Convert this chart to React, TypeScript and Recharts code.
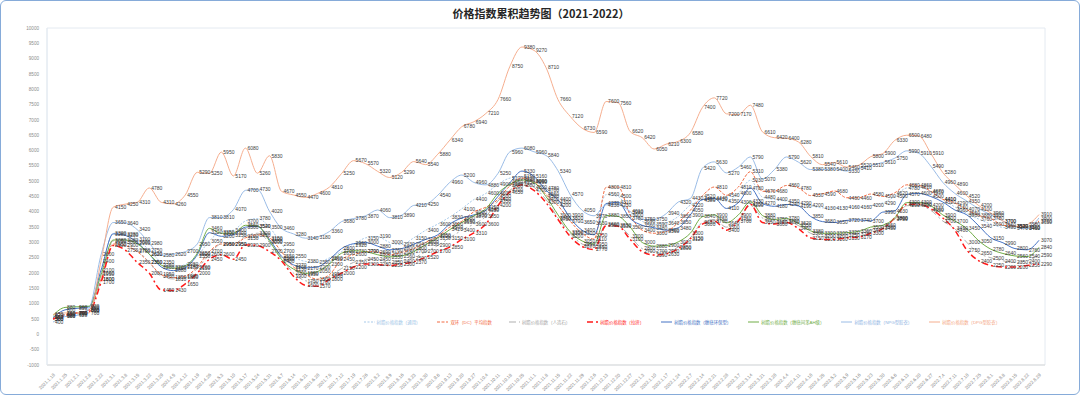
import { CartesianGrid, LabelList, Legend, Line, LineChart, XAxis, YAxis } from 'recharts'

const DATES = [
  '2021.1.18', '2021.1.25', '2021.2.1', '2021.2.8', '2021.2.22', '2021.3.1', '2021.3.8', '2021.3.15', '2021.3.22', '2021.3.29',
  '2021.4.5', '2021.4.12', '2021.4.19', '2021.4.26', '2021.5.3', '2021.5.10', '2021.5.17', '2021.5.24', '2021.5.31', '2021.6.7',
  '2021.6.14', '2021.6.21', '2021.6.28', '2021.7.5', '2021.7.12', '2021.7.19', '2021.7.26', '2021.8.2', '2021.8.9', '2021.8.16',
  '2021.8.23', '2021.8.30', '2021.9.6', '2021.9.13', '2021.9.20', '2021.9.27', '2021.10.4', '2021.10.11', '2021.10.18', '2021.10.25',
  '2021.11.1', '2021.11.8', '2021.11.15', '2021.11.22', '2021.11.29', '2021.12.6', '2021.12.13', '2021.12.20', '2021.12.27', '2022.1.3',
  '2022.1.10', '2022.1.17', '2022.1.24', '2022.2.7', '2022.2.14', '2022.2.21', '2022.2.28', '2022.3.7', '2022.3.14', '2022.3.21',
  '2022.3.28', '2022.4.4', '2022.4.11', '2022.4.18', '2022.4.25', '2022.5.2', '2022.5.9', '2022.5.16', '2022.5.23', '2022.5.30',
  '2022.6.6', '2022.6.13', '2022.6.20', '2022.6.27', '2022.7.4', '2022.7.11', '2022.7.18', '2022.7.25', '2022.8.1', '2022.8.8',
  '2022.8.15', '2022.8.22', '2022.8.29',
]

// 树脂价格指数（通用）
const GENERAL = [
  500, 620, 660, 800, 2000, 3300, 3280, 3100, 2750, 2350,
  2200, 2280, 2550, 3050, 3350, 3400, 3700, 3780, 3500, 2950,
  2550, 2380, 2350, 2500, 2700, 2920, 3150, 3190, 3000, 2930,
  3150, 3400, 3600, 3830, 4100, 4400, 4600, 4900, 5100, 5150,
  5000, 4780, 4300, 3900, 3650, 3630, 4560, 4500, 3980, 3690,
  3590, 3640, 3850, 4220, 4380, 4420, 4350, 4600, 5030, 4480,
  4400, 4350, 4290, 4200, 4130, 4130, 4160, 4160, 4200, 4290,
  4500, 4780, 4810, 4650, 4400, 4160, 3950, 3760, 3600, 3490,
  3470, 3460, 3650,
]

// 双环（DC）平均指数
const DC_AVG = [
  550, 650, 700, 800, 1800, 2950, 2900, 2700, 2350, 1950,
  1850, 1900, 2200, 2700, 2950, 2950, 3150, 3250, 3150, 2700,
  2200, 1950, 1800, 1950, 2450, 2600, 2700, 2690, 2600, 2680,
  2800, 3000, 3200, 3500, 3690, 4000, 4150, 4400, 4850, 5100,
  4990, 4560, 4200, 3700, 3300, 3110, 4800, 4810, 3900, 3400,
  3300, 3360, 3650, 4050, 4520, 4810, 4540, 4810, 5310, 4670,
  4680, 4860, 4780, 4530, 4590, 4680, 4460, 4460, 4580, 4500,
  4620, 4880, 4860, 4670, 4410, 4290, 4070, 3880, 3780, 3560,
  3530, 3500, 3700,
]

// 人造石
const STONE = [
  500, 650, 700, 800, 1800, 3050, 3000, 2750, 2350, 1900,
  1810, 1850, 2150, 2600, 2950, 2950, 3200, 3300, 3000, 2500,
  2000, 1750, 1700, 1900, 2150, 2350, 2450, 2450, 2350, 2400,
  2500, 2700, 2900, 3150, 3400, 3600, 3850, 4350, 4700, 4950,
  4800, 4400, 3800, 3300, 2950, 2850, 3600, 3550, 3200, 2800,
  2700, 2700, 2850, 3150, 3650, 3750, 3500, 3750, 4200, 3800,
  3660, 3700, 3550, 3300, 3200, 3200, 3250, 3280, 3400, 3500,
  3750, 4200, 4200, 4050, 3700, 3450, 3000, 2650, 2500, 2400,
  2350, 2400, 2590,
]

// 拉挤
const PULTRUSION = [
  500, 600, 700, 750, 1700, 2900, 2750, 2350, 2000, 1450,
  1430, 1650, 2000, 2450, 2600, 2450, 2920, 2900, 2700, 2400,
  1900, 1600, 1570, 1800, 2000, 2200, 2300, 2280, 2250, 2300,
  2370, 2520, 2700, 2850, 3100, 3310, 3600, 4200, 4650, 4880,
  4700, 4300, 3750, 3200, 2870, 2770, 3550, 3530, 3100, 2700,
  2590, 2630, 2800, 3120, 3600, 3700, 3400, 3700, 4250, 3650,
  3600, 3650, 3450, 3150, 3100, 3100, 3150, 3170, 3300, 3450,
  3800, 4250, 4250, 4100, 3800, 3400, 2750, 2400, 2250, 2200,
  2200, 2250, 2290,
]

// 缠绕环保型
const WINDING = [
  550, 800, 850, 900, 2100, 3280, 3230, 3000, 2620, 2200,
  2080, 2180, 2600, 3320, 3200, 3250, 3500, 3520, 3100, 2550,
  2270, 2170, 2200, 2450, 2800, 2960, 3000, 2880, 2760, 2800,
  2940, 3100, 3250, 3600, 3800, 3900, 4050, 4500, 4950, 5330,
  5160, 4700, 4400, 3800, 3400, 3250, 4270, 4310, 3780, 3560,
  3480, 3400, 3480, 3900, 4400, 4440, 4110, 4300, 4780, 4270,
  4180, 4240, 4190, 3850, 3680, 3650, 3720, 3740, 3700, 3990,
  4030, 4570, 4600, 4500, 4320, 4060, 3900, 3540, 3150, 2990,
  2800, 2760, 3070,
]

// 缠绕间苯
const WINDING_ISO = [
  620, 880, 900, 920, 1950, 3080, 3080, 2960, 2620, 2260,
  2160, 2240, 2650, 3460, 3300, 3300, 3560, 3540, 3050, 2450,
  2130, 1990, 2050, 2300, 2650, 2730, 2700, 2600, 2530, 2560,
  2700, 2930, 3150, 3420, 3650, 3870, 4100, 4600, 4900, 5040,
  4950, 4500, 3900, 3350, 3050, 2950, 3880, 3850, 3500, 3000,
  2880, 2900, 3020, 3300, 3840, 3900, 3640, 3900, 4330, 3880,
  3750, 3780, 3620, 3380, 3300, 3300, 3320, 3360, 3500, 3560,
  3800, 4300, 4300, 4200, 3900, 3700, 3450, 3050, 2780, 2640,
  2560, 2540, 2840,
]

// NPG型
const NPG = [
  400, 580, 620, 850, 2600, 3650, 3640, 3420, 2980, 2580,
  2620, 2700, 2950, 3810, 3810, 4070, 4700, 4730, 4020, 3460,
  3280, 3140, 3180, 3360, 3680, 3780, 3870, 4060, 3810, 3890,
  4210, 4250, 4540, 4960, 5200, 4960, 4880, 5250, 5960, 6080,
  5960, 5840, 5340, 4570, 4050, 3870, 4230, 4230, 4010, 3750,
  3750, 3940, 4320, 4430, 5420, 5630, 5270, 5460, 5790, 5070,
  5380, 5790, 5620, 5380, 5380, 5400, 5330, 5410, 5510, 5610,
  5750, 5990, 5910, 5490, 4960, 4600, 4350, 4100, 3900, 3700,
  3520, 3460, 3800,
]

// DPG型
const DPG = [
  650, 700, 690, 700, 2400, 4150, 4250, 4310, 4780, 4310,
  4260, 4550, 5290, 5250, 5950, 5170, 6080, 5260, 5830, 4670,
  4550, 4470, 4600, 4810, 5250, 5670, 5570, 5320, 5120, 5290,
  5640, 5540, 5880, 6340, 6780, 6940, 7210, 7660, 8750, 9380,
  9270, 8710, 7660, 7120, 6730, 6590, 7600, 7560, 6620, 6420,
  6050, 6210, 6300, 6580, 7400, 7720, 7200, 7170, 7480, 6610,
  6420, 6400, 6280, 5810, 5540, 5610, 5460, 5520, 5800, 5900,
  6330, 6500, 6480, 5910, 5280, 4890, 4520, 4200, 3960, 3700,
  3520, 3580, 3910,
]

const Y_TICKS = [
  -1000, -500, 0, 500, 1000, 1500, 2000, 2500, 3000, 3500, 4000, 4500,
  5000, 5500, 6000, 6500, 7000, 7500, 8000, 8500, 9000, 9500, 10000,
]

const SERIES = [
  { key: 'general', name: '树脂价格指数（通用）', color: '#9dc3e6', dash: '2 1.5', width: 0.9 },
  { key: 'dc', name: '双环（DC）平均指数', color: '#f26b43', dash: '3 1.5', width: 1 },
  { key: 'stone', name: '树脂价格指数（人造石）', color: '#a6a6a6', dash: '7 3 2 3', width: 0.9 },
  { key: 'pull', name: '树脂价格指数（拉挤）', color: '#ff1a1a', dash: '6 3 2 3', width: 1.5 },
  { key: 'wind', name: '树脂价格指数（缠绕环保型）', color: '#4472c4', dash: undefined, width: 1 },
  { key: 'windIso', name: '树脂价格指数（缠绕间苯AH级）', color: '#70ad47', dash: undefined, width: 1 },
  { key: 'npg', name: '树脂价格指数（NPG型胶衣）', color: '#8fb4e3', dash: undefined, width: 0.9 },
  { key: 'dpg', name: '树脂价格指数（DPG型胶衣）', color: '#f4a582', dash: undefined, width: 0.9 },
]

const data = DATES.map((date, i) => ({
  date,
  general: GENERAL[i],
  dc: DC_AVG[i],
  stone: STONE[i],
  pull: PULTRUSION[i],
  wind: WINDING[i],
  windIso: WINDING_ISO[i],
  npg: NPG[i],
  dpg: DPG[i],
}))

const FONT = '"Liberation Sans", "Noto Sans CJK SC", sans-serif'

function LegendBox() {
  return (
    <div style={{ display: 'flex', gap: 17, alignItems: 'center', fontFamily: FONT }}>
      {SERIES.map(s => (
        <div key={s.key} style={{ display: 'flex', alignItems: 'center', gap: 2 }}>
          <svg width={11} height={4}>
            <line x1={0} y1={2} x2={11} y2={2} stroke={s.color} strokeWidth={s.width} strokeDasharray={s.dash} />
          </svg>
          <span style={{ fontSize: 4.4, color: s.color, whiteSpace: 'nowrap' }}>{s.name}</span>
        </div>
      ))}
    </div>
  )
}

export default function App() {
  return (
    <div
      style={{
        position: 'absolute',
        left: 0,
        top: 0,
        width: 1080,
        height: 395,
        background: '#fff',
        boxSizing: 'border-box',
        border: '1.5px solid #86abd9',
        borderRadius: 6,
        fontFamily: FONT,
      }}
    >
      <div
        style={{
          position: 'absolute',
          top: 4,
          left: 0,
          width: 1080,
          textAlign: 'center',
          fontSize: 11,
          fontWeight: 'bold',
          color: '#262626',
          fontFamily: '"Noto Sans CJK SC", sans-serif',
        }}
      >
        价格指数累积趋势图（2021-2022）
      </div>
      <div style={{ position: 'absolute', left: -1.5, top: -1.5 }}>
        <LineChart width={1080} height={395} data={data} margin={{ top: 28, right: 35, bottom: 2, left: 0 }}>
          <CartesianGrid
            stroke="#e4eaf1"
            horizontalPoints={[28, 365]}
            verticalPoints={[47, 1045]}
          />
          <XAxis
            dataKey="date"
            interval={0}
            height={28}
            angle={-45}
            textAnchor="end"
            padding={{ left: 6, right: 6 }}
            tick={{ fontSize: 4.6, fill: '#7f7f7f' }}
            tickLine={false}
            axisLine={{ stroke: '#d9d9d9' }}
          />
          <YAxis
            width={47}
            domain={[-1000, 10000]}
            ticks={Y_TICKS}
            interval={0}
            tick={{ fontSize: 4.6, fill: '#8c8c8c' }}
            tickLine={false}
            axisLine={{ stroke: '#e4eaf1' }}
          />
          <Legend
            layout="horizontal"
            verticalAlign="middle"
            align="center"
            content={() => <LegendBox />}
            wrapperStyle={{ position: 'absolute', top: 319, left: 364, width: 700 }}
          />
          {SERIES.map(s => (
            <Line
              key={s.key}
              type="monotone"
              dataKey={s.key}
              name={s.name}
              stroke={s.color}
              strokeWidth={s.width}
              strokeDasharray={s.dash}
              dot={false}
              activeDot={false}
              isAnimationActive={false}
            >
              <LabelList dataKey={s.key} position="right" offset={2} fontSize={5} fill="#3a3a3a" />
            </Line>
          ))}
        </LineChart>
      </div>
    </div>
  )
}
